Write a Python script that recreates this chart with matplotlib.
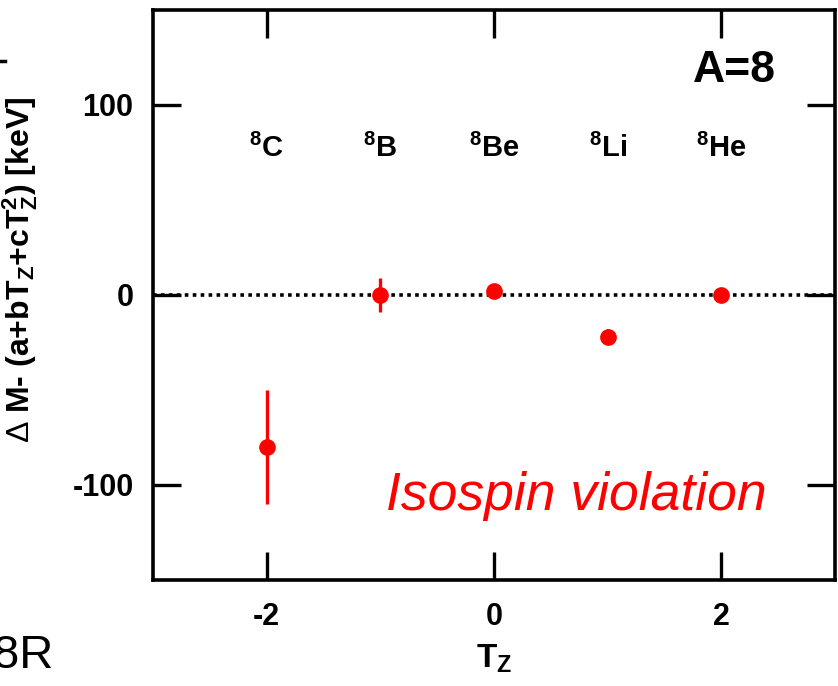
import matplotlib
matplotlib.use("Agg")
import matplotlib.pyplot as plt
from matplotlib.lines import Line2D

fam = ['Liberation Sans Narrow', 'Liberation Sans', 'DejaVu Sans']
plt.rcParams['font.family'] = fam
plt.rcParams['axes.unicode_minus'] = False
plt.rcParams['mathtext.fontset'] = 'custom'
plt.rcParams['mathtext.rm'] = 'Liberation Sans'
plt.rcParams['mathtext.bf'] = 'Liberation Sans:bold'
plt.rcParams['mathtext.default'] = 'bf'

# data
tz = [-2, -1, 0, 1, 2]
dm = [-80, 0, 2, -22, 0]
dm_err = [30, 9, 3, 4, 2]
nuclei = ['C', 'B', 'Be', 'Li', 'He']
mass_number = 8

fig = plt.figure(figsize=(8.38, 6.86), dpi=100)
ax = fig.add_axes([153 / 838, 1 - 580 / 686, 682 / 838, 570 / 686])

ax.axhline(0, color='black', ls=(0, (1, 1.2)), lw=2.6, zorder=1)
ax.errorbar(tz, dm, yerr=dm_err, fmt='o', color='#ff0000', ms=11,
            elinewidth=2.4, capsize=0, zorder=3)

for x, name in zip(tz, nuclei):
    ax.text(x, 77, r'$^{%d}$%s' % (mass_number, name), ha='center',
            va='center', fontsize=21, fontweight='bold')

ax.text(2.48, 118, 'A=%d' % mass_number, ha='right', va='center',
        fontsize=32, fontweight='bold')
ax.text(2.4, -106, 'Isospin violation', ha='right', va='center',
        fontsize=38.5, style='italic', color='#ff0000',
        family=['Liberation Sans', 'DejaVu Sans'])

ax.set_xlim(-3, 3)
ax.set_ylim(-150, 150)
ax.set_xticks([-2, 0, 2])
ax.set_yticks([-100, 0, 100])
ax.tick_params(direction='in', length=20, width=2.4, top=True, right=True,
               labelsize=22, pad=14)
ax.tick_params(axis='x', pad=16)
for lab in ax.get_xticklabels() + ax.get_yticklabels():
    lab.set_fontweight('bold')
for s in ax.spines.values():
    s.set_linewidth(2.6)

ax.set_xlabel(r'T$_{Z}$', fontsize=24, fontweight='bold')
ax.xaxis.set_label_coords(0.5, -0.11)
ax.set_ylabel(r'$\mathrm{\Delta}$ M- (a+bT$_{Z}$+cT$_{Z}^{2}$) [keV]',
              fontsize=23, fontweight='bold')
ax.yaxis.set_label_coords(-0.165, 0.545)

# cut-off bits from the neighbouring slide
fig.text(53 / 838, 1 - 668 / 686, '8R', ha='right', va='baseline', fontsize=34,
         family=['Liberation Sans', 'DejaVu Sans'])
fig.add_artist(Line2D([0, 5 / 838], [1 - 61 / 686, 1 - 61 / 686],
                      color='black', lw=2.5, transform=fig.transFigure))

fig.savefig('out.png', dpi=100)
